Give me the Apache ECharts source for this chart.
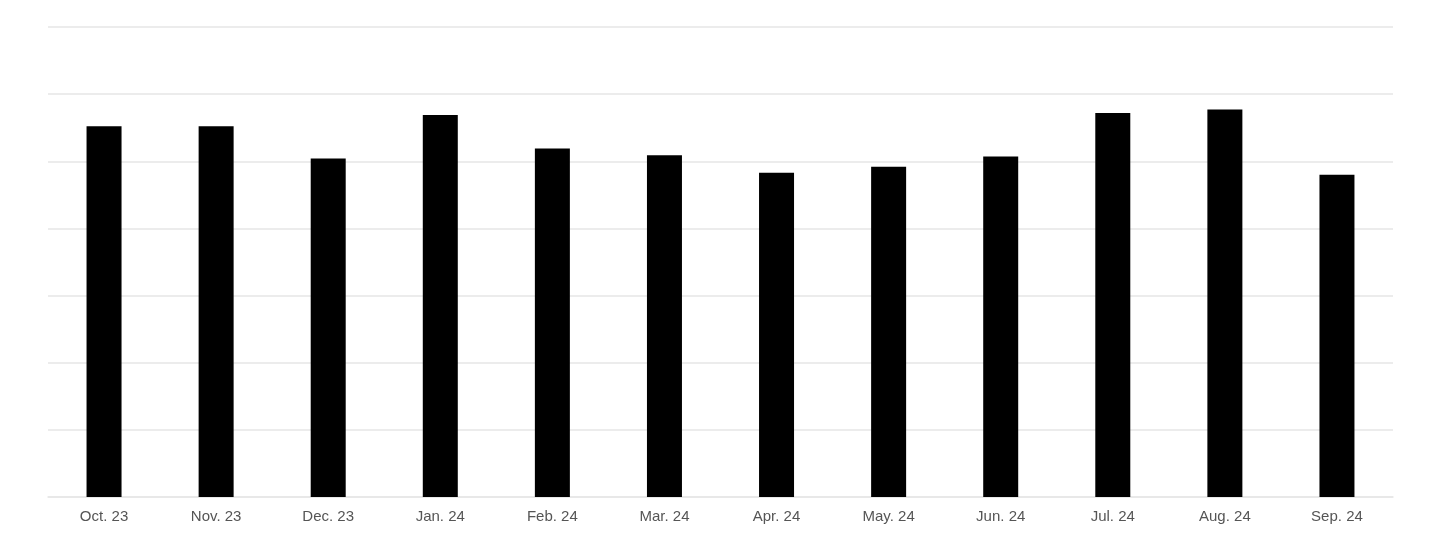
<!DOCTYPE html>
<html>
<head>
<meta charset="utf-8">
<style>
  html, body { margin: 0; padding: 0; background: #fff; }
  #chart { width: 1440px; height: 540px; }
</style>
<script src="https://cdn.jsdelivr.net/npm/echarts@6/dist/echarts.min.js"></script>
</head>
<body>
<div id="chart"></div>
<script>
// months shown on the x axis
const months = ['Oct. 23', 'Nov. 23', 'Dec. 23', 'Jan. 24', 'Feb. 24', 'Mar. 24',
                'Apr. 24', 'May. 24', 'Jun. 24', 'Jul. 24', 'Aug. 24', 'Sep. 24'];
// bar heights, read off the gridlines (no y labels in the original)
const values = [5.52, 5.52, 5.04, 5.69, 5.19, 5.09, 4.83, 4.92, 5.07, 5.72, 5.77, 4.80];

let chart = echarts.init(document.getElementById('chart'), null, { renderer: 'canvas' });

chart.setOption({
    animation: false,
    grid: { left: 48, right: 47, top: 27, bottom: 43 },
    xAxis: {
        type: 'category',
        data: months,
        axisLine: { lineStyle: { color: '#e6e6e6', width: 1.5 } },
        axisTick: { show: false },
        axisLabel: {
            color: '#555',
            fontSize: 15,
            fontFamily: 'Liberation Sans, Arial, sans-serif',
            margin: 12
        }
    },
    yAxis: {
        type: 'value',
        min: 0,
        max: 7,
        interval: 1,
        axisLabel: { show: false },
        axisLine: { show: false },
        axisTick: { show: false },
        splitLine: { lineStyle: { color: '#e6e6e6', width: 1.5 } }
    },
    series: [{
        type: 'bar',
        data: values,
        barWidth: 35,
        itemStyle: { color: '#000' }
    }]
});
</script>
</body>
</html>
